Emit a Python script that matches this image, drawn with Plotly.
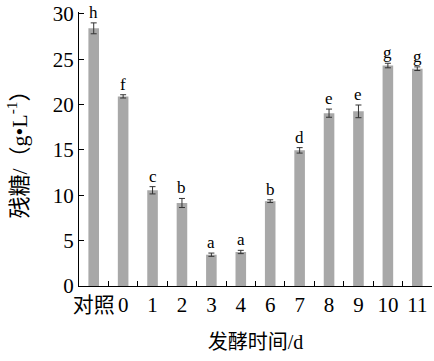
import plotly.graph_objects as go

categories = ["对照", "0", "1", "2", "3", "4", "6", "7", "8", "9", "10", "11"]
values = [28.4, 20.9, 10.55, 9.15, 3.45, 3.75, 9.35, 14.95, 19.05, 19.25, 24.3, 23.95]
errors = [0.6, 0.18, 0.4, 0.5, 0.18, 0.18, 0.15, 0.3, 0.45, 0.7, 0.25, 0.2]
letters = ["h", "f", "c", "b", "a", "a", "b", "d", "e", "e", "g", "g"]
y_ticks = [0, 5, 10, 15, 20, 25, 30]

serif = "Liberation Serif, Times New Roman, Noto Sans CJK SC, serif"

fig = go.Figure()
fig.add_trace(go.Bar(
    x=categories, y=values,
    marker=dict(color="#a8a8a8", line=dict(width=0)),
    error_y=dict(type="data", array=errors, visible=True, color="#333333", thickness=1, width=3),
    width=0.36,
))

for i, (v, e, l) in enumerate(zip(values, errors, letters)):
    fig.add_annotation(x=i, y=v + e, text=l, showarrow=False, yanchor="bottom", yshift=-1,
                       font=dict(family=serif, size=17, color="black"))

fig.update_layout(
    width=434, height=361,
    margin=dict(l=79, r=2, t=10, b=75),
    plot_bgcolor="white", paper_bgcolor="white",
    showlegend=False,
    xaxis=dict(
        type="category", categoryorder="array", categoryarray=categories,
        tickson="boundaries", ticks="inside", ticklen=5, tickcolor="black", tickangle=0,
        showline=True, linecolor="black", linewidth=1, showgrid=False,
        tickfont=dict(family=serif, size=21, color="black"),
        title=dict(text="发酵时间/d", font=dict(family=serif, size=20, color="black"), standoff=18),
        range=[-0.5, 11.5],
    ),
    yaxis=dict(
        range=[0, 30.2], tickmode="array", tickvals=y_ticks, ticktext=[str(t) for t in y_ticks],
        ticks="inside", ticklen=5, tickcolor="black",
        showline=True, linecolor="black", linewidth=1, showgrid=False, zeroline=False,
        tickfont=dict(family=serif, size=21, color="black"),
        title=dict(text="残糖/（g•L<sup>-1</sup>）", font=dict(family=serif, size=22, color="black"), standoff=19),
    ),
)

fig.write_html("out.html")
